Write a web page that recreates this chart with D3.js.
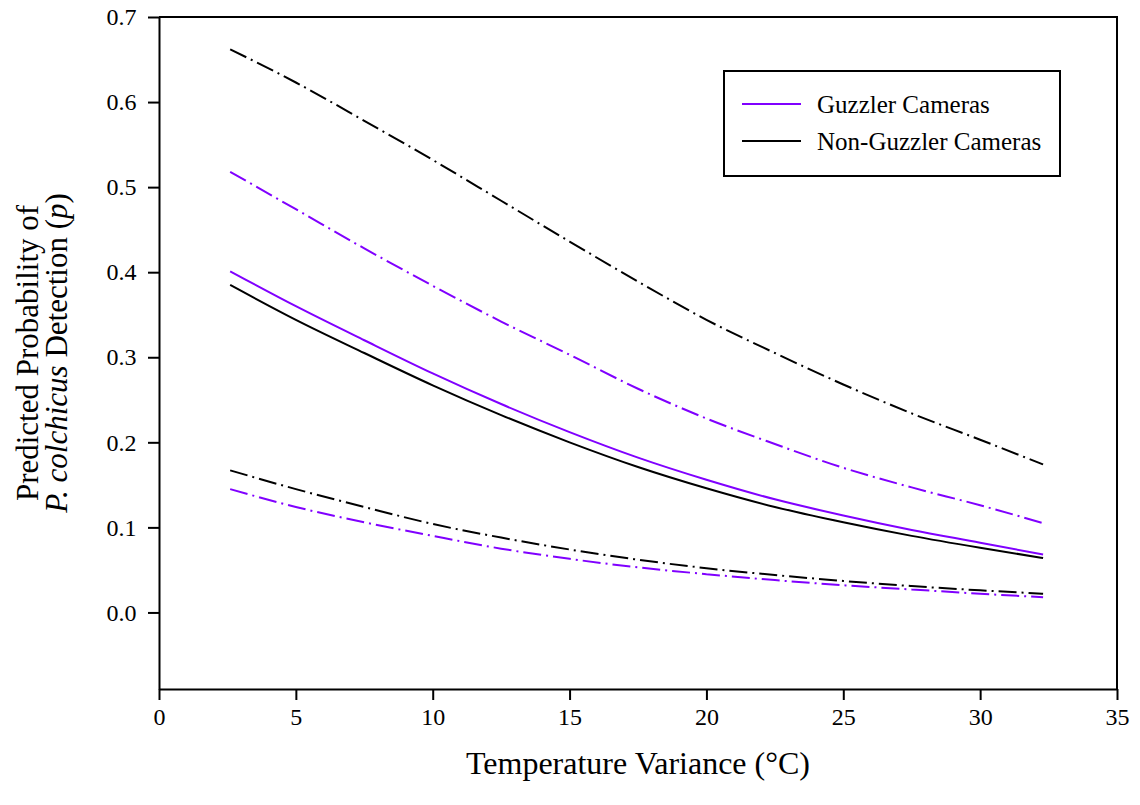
<!DOCTYPE html>
<html>
<head>
<meta charset="utf-8">
<script src="https://cdn.jsdelivr.net/npm/d3@7"></script>
<style>
  body { margin: 0; background: #fff; }
  svg text { font-family: "Liberation Serif", "Times New Roman", serif; }
</style>
</head>
<body>
<svg id="chart" width="1140" height="805"></svg>
<script>
"use strict";

// === Data ===
let tempX = [2.6, 5, 7.5, 10, 12.5, 15, 17.5, 20, 22.5, 25, 27.5, 30, 32.3];

let guzzlerFit   = [0.401, 0.360, 0.320, 0.281, 0.245, 0.212, 0.182, 0.156, 0.133, 0.114, 0.097, 0.082, 0.068];
let guzzlerUpper = [0.518, 0.474, 0.428, 0.384, 0.342, 0.303, 0.263, 0.228, 0.198, 0.170, 0.147, 0.126, 0.105];
let guzzlerLower = [0.145, 0.124, 0.106, 0.090, 0.075, 0.063, 0.053, 0.045, 0.038, 0.032, 0.027, 0.022, 0.018];

let nonFit   = [0.385, 0.344, 0.305, 0.267, 0.232, 0.200, 0.171, 0.146, 0.124, 0.106, 0.090, 0.076, 0.064];
let nonUpper = [0.662, 0.623, 0.578, 0.532, 0.484, 0.436, 0.389, 0.344, 0.305, 0.268, 0.234, 0.203, 0.174];
let nonLower = [0.167, 0.145, 0.124, 0.104, 0.088, 0.074, 0.062, 0.052, 0.044, 0.037, 0.031, 0.026, 0.022];

let xTicks = [0, 5, 10, 15, 20, 25, 30, 35];
let yTicks = [0.0, 0.1, 0.2, 0.3, 0.4, 0.5, 0.6, 0.7];

let legendItems = [
  { label: "Guzzler Cameras", color: "#8000ff" },
  { label: "Non-Guzzler Cameras", color: "#000000" }
];

const FONT = "Liberation Serif, Times New Roman, serif";

// === Scales ===
let svg = d3.select("#chart");
let x = d3.scaleLinear().domain([0, 35]).range([159, 1117]);
let y = d3.scaleLinear().domain([-0.09, 0.7]).range([689, 17]);

// === Axes ===
svg.append("g")
  .attr("transform", "translate(0,689)")
  .call(d3.axisBottom(x).tickValues(xTicks).tickFormat(d3.format("d")).tickSize(11).tickSizeOuter(0))
  .call(g => g.attr("font-family", FONT).attr("font-size", 24))
  .call(g => g.selectAll("text").attr("dy", "0.9em").attr("fill", "#000"));

svg.append("g")
  .attr("transform", "translate(159,0)")
  .call(d3.axisLeft(y).tickValues(yTicks).tickFormat(d3.format(".1f")).tickSize(11).tickSizeOuter(0))
  .call(g => g.attr("font-family", FONT).attr("font-size", 24))
  .call(g => g.selectAll("text").attr("dx", "-0.35em").attr("fill", "#000"));

svg.selectAll(".domain").attr("stroke", "#000").attr("stroke-width", 2);
svg.selectAll(".tick line").attr("stroke", "#000").attr("stroke-width", 2);

// top and right frame
svg.append("path")
  .attr("d", `M${x(0)},${y(0.7)}H${x(35)}V${y(-0.09)}`)
  .attr("fill", "none")
  .attr("stroke", "#000")
  .attr("stroke-width", 2);

// === Curves ===
let line = d3.line()
  .x((d, i) => x(tempX[i]))
  .y(d => y(d))
  .curve(d3.curveMonotoneX);

let curves = [
  { vals: nonUpper, color: "#000", dash: "18,5,2,5" },
  { vals: guzzlerUpper, color: "#8000ff", dash: "18,5,2,5" },
  { vals: guzzlerFit, color: "#8000ff", dash: null },
  { vals: nonFit, color: "#000", dash: null },
  { vals: nonLower, color: "#000", dash: "18,5,2,5" },
  { vals: guzzlerLower, color: "#8000ff", dash: "18,5,2,5" }
];

curves.forEach(c => {
  svg.append("path")
    .attr("d", line(c.vals))
    .attr("fill", "none")
    .attr("stroke", c.color)
    .attr("stroke-width", 2)
    .attr("stroke-dasharray", c.dash);
});

// === Legend ===
let legend = svg.append("g").attr("font-family", FONT);
legend.append("rect")
  .attr("x", 724).attr("y", 71)
  .attr("width", 336).attr("height", 105)
  .attr("fill", "#fff")
  .attr("stroke", "#000")
  .attr("stroke-width", 2);

legendItems.forEach((d, i) => {
  let ly = 104 + i * 37;
  legend.append("line")
    .attr("x1", 742).attr("x2", 801)
    .attr("y1", ly).attr("y2", ly)
    .attr("stroke", d.color)
    .attr("stroke-width", 2);
  legend.append("text")
    .attr("x", 817).attr("y", ly)
    .attr("dy", "0.35em")
    .attr("font-size", 25)
    .text(d.label);
});

// === Axis titles ===
svg.append("text")
  .attr("x", 638).attr("y", 774)
  .attr("text-anchor", "middle")
  .attr("font-size", 32)
  .text("Temperature Variance (°C)");

let yTitle = svg.append("text")
  .attr("transform", "translate(0,353) rotate(-90)")
  .attr("text-anchor", "middle")
  .attr("font-size", 31);
yTitle.append("tspan").attr("x", 0).attr("y", 38).text("Predicted Probability of");
let line2 = yTitle.append("tspan").attr("x", 0).attr("y", 67);
line2.append("tspan").attr("font-style", "italic").text("P. colchicus");
line2.append("tspan").text(" Detection (");
line2.append("tspan").attr("font-style", "italic").text("p");
line2.append("tspan").text(")");
</script>
</body>
</html>
